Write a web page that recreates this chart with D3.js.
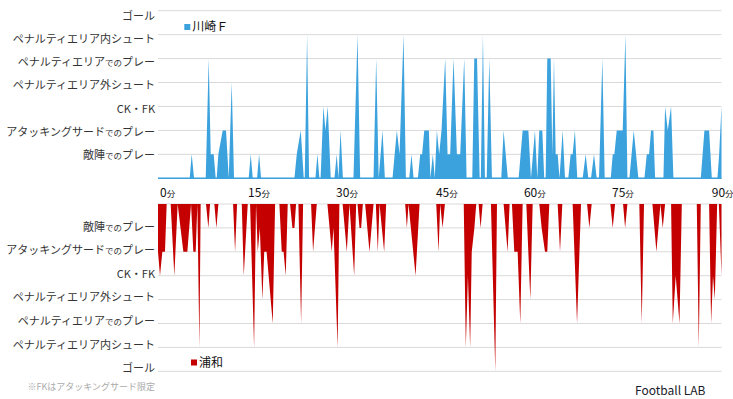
<!DOCTYPE html>
<html>
<head>
<meta charset="utf-8">
<script src="https://cdn.jsdelivr.net/npm/d3@7"></script>
<style>
  body { margin: 0; background: #fff; }
  svg text { font-family: "Noto Sans CJK JP", "Noto Sans", sans-serif; }
</style>
</head>
<body>
<div id="chart"></div>
<script>
// play categories, level 1 .. 7
const levels = ["敵陣でのプレー", "アタッキングサードでのプレー", "CK・FK",
  "ペナルティエリア外シュート", "ペナルティエリアでのプレー", "ペナルティエリア内シュート", "ゴール"];

// minute axis (includes added time, so 45/90 sit a little later)
const tickMinutes = [0, 15, 30, 47, 62, 77, 94];
const tickLabels = ["0", "15", "30", "45", "60", "75", "90"];

// [minute, level] vertices
const kawasaki = [
  [0, 0], [5.4, 0], [5.74, 1], [6.14, 0],
  [8.13, 0], [8.64, 5], [8.98, 1], [9.49, 1], [9.83, 0], [10.0, 0], [10.28, 1], [11.02, 2], [11.59, 2], [12.05, 0], [12.56, 4], [12.95, 0],
  [15.45, 0], [15.8, 1], [16.14, 0],
  [16.88, 0], [17.22, 1], [17.56, 0],
  [23.24, 0], [23.64, 1], [24.32, 2], [24.83, 0], [25.0, 0], [25.4, 6], [25.74, 0],
  [26.82, 0], [27.16, 1], [27.5, 0], [27.7, 0], [28.18, 3], [28.52, 2], [28.92, 3], [29.43, 0],
  [30.06, 0], [30.45, 1], [30.74, 0], [31.1, 2], [31.5, 0],
  [33.3, 0], [33.99, 6], [34.44, 0],
  [36.72, 0], [37.17, 5], [37.6, 0], [38.25, 2], [38.65, 0],
  [39.95, 0], [40.69, 2], [41.15, 1], [41.83, 6], [42.23, 0],
  [42.8, 0], [43.19, 1], [43.54, 0],
  [44.27, 0], [44.67, 1], [45.0, 1], [45.36, 2], [46.15, 2], [46.4, 0], [46.83, 1], [47.15, 0], [47.51, 2], [47.9, 1], [48.3, 2],
  [48.93, 5], [49.33, 1], [49.78, 1], [50.35, 5], [50.92, 1], [51.49, 1], [52.17, 5], [52.57, 0],
  [53.54, 0], [53.88, 5], [54.35, 5], [54.8, 0], [55.0, 0], [55.36, 6], [55.7, 0], [56.0, 0], [56.44, 5], [56.89, 0],
  [58.48, 0], [58.88, 2], [59.6, 0],
  [61.44, 0], [62.12, 2], [63.1, 2], [63.54, 0], [64.22, 2], [64.62, 0], [64.96, 2], [65.47, 2], [65.8, 0],
  [66.04, 0], [66.32, 5], [66.9, 5], [67.18, 1], [67.46, 5], [67.75, 1], [68.09, 1], [68.4, 0], [68.94, 2], [69.34, 0],
  [69.9, 0], [70.3, 1], [70.64, 1], [71.03, 2], [71.43, 0],
  [72.35, 0], [72.86, 1], [73.31, 0],
  [73.77, 0], [74.28, 1], [74.74, 0],
  [75.13, 0], [75.7, 5], [76.1, 0],
  [77.13, 0], [77.47, 1], [77.75, 1], [78.15, 2], [79.17, 2], [79.63, 6], [79.97, 0],
  [80.31, 0], [81.05, 2], [81.84, 0],
  [82.87, 0], [83.27, 1], [83.66, 1], [84.0, 2], [84.4, 2], [84.69, 0],
  [86.11, 0], [86.39, 3], [86.85, 2], [87.41, 3], [87.81, 0],
  [92.47, 0], [93.09, 2], [93.89, 2], [94.35, 0],
  [95.31, 0], [95.6, 1], [96, 3]
];

const urawa = [
  [0, 2], [0.34, 3], [0.74, 2], [1.19, 2], [1.48, 0],
  [2.16, 0], [2.78, 3], [3.35, 0], [4.32, 2], [5.0, 2], [5.63, 0], [6.02, 2], [6.42, 2], [6.71, 0], [7.05, 6], [7.27, 0],
  [8.18, 0], [8.58, 1], [8.87, 0],
  [9.6, 0], [9.95, 1], [10.29, 0],
  [12.79, 0], [13.13, 2], [13.47, 0],
  [14.27, 0], [14.61, 3], [15.29, 0],
  [15.69, 0], [16.37, 6], [16.7, 0], [17.0, 2], [17.35, 1], [17.78, 4], [18.1, 2], [18.5, 2], [19.55, 5], [19.95, 0],
  [20.68, 0], [21.08, 2], [21.4, 2], [21.76, 3], [22.1, 0],
  [22.5, 0], [22.9, 1], [23.24, 1], [23.52, 0],
  [23.92, 0], [24.38, 5], [24.72, 0],
  [26.08, 0], [26.42, 2], [27.05, 0],
  [28.86, 0], [29.6, 2], [29.9, 1], [30.6, 6], [30.9, 0],
  [31.45, 0], [32.17, 2], [32.62, 0], [33.42, 3], [33.76, 0],
  [33.99, 0], [34.33, 1], [34.61, 1], [34.9, 0],
  [35.29, 0], [36.03, 2], [36.72, 0],
  [37.11, 0], [37.45, 2], [37.74, 0], [38.53, 2], [38.87, 0],
  [42.11, 0], [42.4, 1], [42.68, 0], [43.88, 3], [44.56, 0],
  [47.4, 0], [47.8, 2], [48.08, 0], [48.48, 1], [48.88, 0],
  [52.09, 0], [52.44, 6], [52.8, 3], [53.18, 6], [53.45, 2], [53.9, 1], [54.22, 0],
  [54.62, 0], [54.96, 1], [55.3, 0],
  [56.72, 0], [57.46, 7], [57.75, 0],
  [58.88, 0], [59.56, 2], [59.9, 0],
  [60.3, 0], [60.7, 2], [61.27, 2], [61.72, 5], [62.12, 0],
  [62.75, 0], [63.43, 4], [63.83, 0],
  [64.96, 0], [65.36, 1], [65.93, 2], [66.32, 2], [66.66, 0],
  [68.09, 0], [68.49, 2], [68.88, 0],
  [70.64, 0], [71.39, 5], [72.07, 0],
  [73.1, 0], [73.49, 1], [73.88, 0],
  [77.07, 0], [77.47, 1], [77.87, 0],
  [79.23, 0], [79.58, 1], [79.97, 0],
  [82.0, 0], [82.41, 5], [82.8, 0],
  [84.23, 0], [84.91, 2], [85.6, 0], [85.99, 1], [86.39, 0],
  [87.41, 0], [87.7, 5], [88.2, 3], [88.84, 5], [89.24, 0],
  [91.79, 0], [92.13, 6], [92.47, 0],
  [93.89, 0], [94.23, 5], [94.55, 3], [94.86, 4], [95.26, 0], [95.55, 0], [96, 3]
];

const width = 733;
const height = 399;
const left = 158;
const right = 721.5;
const blue = "#3ba2dd";
const red = "#c40000";
const grid = "#d9d9d9";

const svg = d3.select("#chart").append("svg")
  .attr("width", width)
  .attr("height", height);

const x = d3.scaleLinear().domain([0, 96]).range([left, right]);
const yTop = d3.scaleLinear().domain([0, 7]).range([178.3, 10.7]);
const yBot = d3.scaleLinear().domain([0, 7]).range([204, 371.3]);
// the category labels are spaced a bit tighter than the grid
const labelTop = d3.scaleLinear().domain([1, 7]).range([155, 16]);
const labelBot = d3.scaleLinear().domain([1, 7]).range([226.7, 368.3]);

// label with the smaller "での"
function addLabel(sel, text) {
  const parts = text.split("での");
  sel.append("tspan").text(parts[0]);
  if (parts.length > 1) {
    sel.append("tspan").attr("font-size", 8.5).text("での");
    sel.append("tspan").text(parts[1]);
  }
}

function drawPanel(y, labelY, data, color) {
  const g = svg.append("g");

  g.selectAll("line.grid")
    .data(d3.range(0, 8))
    .enter().append("line")
    .attr("class", "grid")
    .attr("x1", left)
    .attr("x2", right)
    .attr("y1", d => y(d))
    .attr("y2", d => y(d))
    .attr("stroke", grid)
    .attr("stroke-width", 1);

  const area = d3.area()
    .x(d => x(d[0]))
    .y0(y(0))
    .y1(d => y(d[1]));

  g.append("path")
    .datum(data)
    .attr("d", area)
    .attr("fill", color);

  g.selectAll("text.cat")
    .data(levels)
    .enter().append("text")
    .attr("class", "cat")
    .attr("x", 155)
    .attr("y", (d, i) => labelY(i + 1))
    .attr("dy", "0.36em")
    .attr("text-anchor", "end")
    .attr("font-size", 11)
    .attr("fill", "#333")
    .each(function (d) { addLabel(d3.select(this), d); });

  return g;
}

const topPanel = drawPanel(yTop, labelTop, kawasaki, blue);
// blue base line under the Kawasaki area
topPanel.append("line")
  .attr("x1", left).attr("x2", right)
  .attr("y1", yTop(0)).attr("y2", yTop(0))
  .attr("stroke", blue)
  .attr("stroke-width", 1.5);

drawPanel(yBot, labelBot, urawa, red);

// minute ticks
const ticks = svg.selectAll("text.tick")
  .data(tickMinutes)
  .enter().append("text")
  .attr("class", "tick")
  .attr("x", d => x(d) + 2)
  .attr("y", 197)
  .attr("font-size", 12)
  .attr("fill", "#111");
ticks.append("tspan").text((d, i) => tickLabels[i]);
ticks.append("tspan").attr("font-size", 8.5).text("分");

// legends
function legend(px, py, color, name) {
  svg.append("rect")
    .attr("x", px).attr("y", py - 3)
    .attr("width", 6).attr("height", 6)
    .attr("fill", color);
  svg.append("text")
    .attr("x", px + 8).attr("y", py)
    .attr("dy", "0.36em")
    .attr("font-size", 12)
    .attr("fill", "#111")
    .text(name);
}
legend(184.3, 27, blue, "川崎Ｆ");
legend(191, 362.5, red, "浦和");

svg.append("text")
  .attr("x", 155).attr("y", 387)
  .attr("dy", "0.36em")
  .attr("text-anchor", "end")
  .attr("font-size", 9)
  .attr("fill", "#aaa")
  .text("※FKはアタッキングサード限定");

svg.append("text")
  .attr("x", 635).attr("y", 394.5)
  .attr("font-family", "Liberation Sans, Arial, sans-serif")
  .attr("font-size", 12)
  .attr("fill", "#1a1a2a")
  .text("Football LAB");
</script>
</body>
</html>
